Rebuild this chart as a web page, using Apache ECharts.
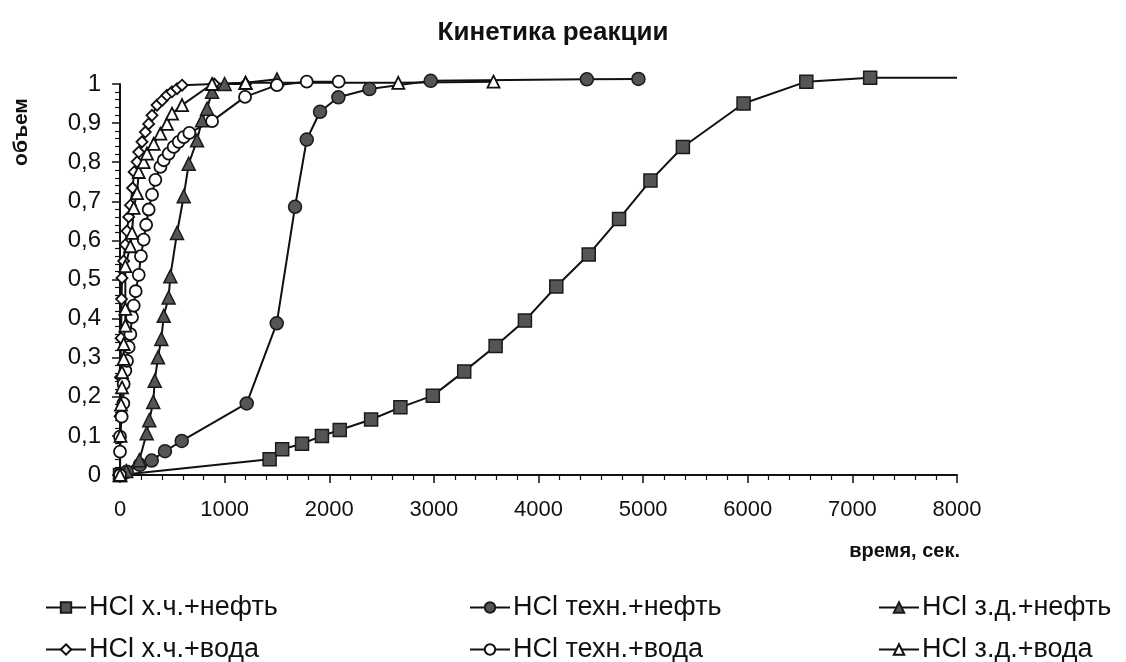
<!DOCTYPE html>
<html>
<head>
<meta charset="utf-8">
<script src="https://cdn.jsdelivr.net/npm/echarts@6/dist/echarts.min.js"></script>
<style>
html,body{margin:0;padding:0;background:#fff;}
#chart{width:1126px;height:662px;}
</style>
</head>
<body>
<div id="chart"></div>
<script>
// ---- data (time, s ; volume, fraction) ----
var titleText = 'Кинетика реакции';
var yAxisName = 'объем';
var xAxisName = 'время, сек.';
var seriesNames = ['HCl х.ч.+нефть', 'HCl техн.+нефть', 'HCl з.д.+нефть',
                   'HCl х.ч.+вода', 'HCl техн.+вода', 'HCl з.д.+вода'];

// HCl х.ч.+нефть (filled squares)
var s1Time = [0, 1430, 1550, 1740, 1930, 2100, 2400, 2680, 2990, 3290, 3590, 3870, 4170, 4480, 4770, 5070, 5380, 5960, 6560, 7170, 8000];
var s1Vol  = [0, 0.04, 0.066, 0.08, 0.10, 0.115, 0.142, 0.173, 0.203, 0.265, 0.33, 0.395, 0.482, 0.564, 0.655, 0.753, 0.839, 0.95, 1.006, 1.016, 1.016];

// HCl техн.+нефть (filled circles)
var s2Time = [0, 64, 190, 303, 430, 590, 1211, 1498, 1673, 1785, 1912, 2087, 2384, 2970, 4462, 4955];
var s2Vol  = [0, 0.008, 0.026, 0.037, 0.061, 0.087, 0.183, 0.388, 0.686, 0.858, 0.929, 0.966, 0.987, 1.008, 1.012, 1.013];

// HCl з.д.+нефть (filled triangles)
var s3Time = [0, 60, 185, 255, 280, 318, 332, 363, 395, 418, 465, 481, 545, 609, 657, 736, 784, 832, 880, 1000, 1200, 1500];
var s3Vol  = [0, 0.01, 0.038, 0.107, 0.14, 0.187, 0.241, 0.301, 0.348, 0.407, 0.454, 0.508, 0.619, 0.713, 0.796, 0.856, 0.907, 0.937, 0.98, 1.0, 1.003, 1.012];

// HCl х.ч.+вода (open diamonds)
var s4Time = [0, 0, 5, 10, 15, 19, 35, 51, 67, 83, 100, 120, 135, 163, 179, 210, 242, 274, 306, 354, 402, 449, 497, 545, 593, 900, 1200];
var s4Vol  = [0, 0.15, 0.25, 0.35, 0.45, 0.504, 0.547, 0.589, 0.624, 0.66, 0.69, 0.734, 0.775, 0.801, 0.826, 0.852, 0.877, 0.898, 0.92, 0.946, 0.958, 0.971, 0.98, 0.988, 0.997, 1.0, 1.0];

// HCl техн.+вода (open circles)
var s5Time = [0, 0, 0, 16, 32, 35, 51, 67, 83, 99, 115, 131, 150, 179, 200, 226, 250, 274, 306, 338, 386, 418, 465, 513, 561, 609, 663, 880, 1195, 1500, 1785, 2090];
var s5Vol  = [0, 0.06, 0.098, 0.149, 0.183, 0.233, 0.267, 0.292, 0.327, 0.36, 0.404, 0.433, 0.47, 0.512, 0.56, 0.602, 0.64, 0.679, 0.717, 0.755, 0.788, 0.805, 0.822, 0.839, 0.852, 0.864, 0.875, 0.905, 0.967, 0.997, 1.006, 1.006];

// HCl з.д.+вода (open triangles)
var s6Time = [0, 5, 10, 19, 19, 35, 35, 51, 51, 51, 99, 115, 131, 163, 179, 226, 258, 322, 386, 449, 497, 593, 880, 1200, 2660, 3570];
var s6Vol  = [0, 0.1, 0.18, 0.224, 0.263, 0.297, 0.335, 0.382, 0.425, 0.534, 0.585, 0.619, 0.683, 0.721, 0.775, 0.80, 0.822, 0.847, 0.873, 0.898, 0.924, 0.946, 1.0, 1.003, 1.003, 1.006];

// x-axis / y-axis ranges
var xMin = 0, xMax = 8000, xStep = 1000;
var yMin = 0, yMax = 1, yStep = 0.1;

// ---- build ----
function pairs(t, v, hideLastMarker) {
  var out = [];
  for (var i = 0; i < t.length; i++) {
    var item = { value: [t[i], v[i]] };
    if (hideLastMarker && i === t.length - 1) item.symbol = 'none';
    out.push(item);
  }
  return out;
}

var FONT = '"Liberation Sans", Arial, sans-serif';
var filledStyle = { color: '#555', borderColor: '#1a1a1a', borderWidth: 1.5 };
var openStyle = { color: '#fff', borderColor: '#111', borderWidth: 1.8 };

function mkSeries(name, data, symbol, size, itemStyle) {
  return {
    name: name, type: 'line', data: data,
    symbol: symbol, symbolSize: size, showAllSymbol: true,
    clip: false, animation: false,
    lineStyle: { color: '#111', width: 2 },
    itemStyle: itemStyle,
    emphasis: { disabled: true }
  };
}

var series = [
  mkSeries(seriesNames[0], pairs(s1Time, s1Vol, true), 'rect', 13, filledStyle),
  mkSeries(seriesNames[1], pairs(s2Time, s2Vol), 'circle', 13, filledStyle),
  mkSeries(seriesNames[2], pairs(s3Time, s3Vol), 'triangle', 13, filledStyle),
  mkSeries(seriesNames[3], pairs(s4Time, s4Vol), 'diamond', 11, openStyle),
  mkSeries(seriesNames[4], pairs(s5Time, s5Vol), 'circle', 12, openStyle),
  mkSeries(seriesNames[5], pairs(s6Time, s6Vol), 'triangle', 12, openStyle)
];

var legendPos = [
  { left: 40, top: 589 }, { left: 464, top: 589 }, { left: 873, top: 589 },
  { left: 40, top: 631 }, { left: 464, top: 631 }, { left: 873, top: 631 }
];
var legends = legendPos.map(function (p, i) {
  return {
    left: p.left, top: p.top, data: [seriesNames[i]],
    itemWidth: 40, itemHeight: 13, itemGap: 0,
    selectedMode: false,
    textStyle: { fontFamily: FONT, fontSize: 27, color: '#111', padding: [0, 0, 0, -2] }
  };
});

var chart = echarts.init(document.getElementById('chart'), null, { renderer: 'canvas' });
chart.setOption({
  backgroundColor: '#fff',
  animation: false,
  title: {
    text: titleText, left: 548, top: 15, textAlign: 'center',
    textStyle: { fontFamily: FONT, fontSize: 26, fontWeight: 'bold', color: '#111' }
  },
  legend: legends,
  grid: { left: 120, right: 169, top: 84, bottom: 187, containLabel: false },
  xAxis: {
    type: 'value', min: xMin, max: xMax, interval: xStep,
    axisLine: { show: true, onZero: false, lineStyle: { color: '#111', width: 2 } },
    axisTick: { show: true, inside: false, length: 8, lineStyle: { color: '#111', width: 1.5 } },
    minorTick: { show: true, splitNumber: 5, length: 5, lineStyle: { color: '#111', width: 1.2 } },
    splitLine: { show: false },
    axisLabel: {
      margin: 24, fontFamily: FONT, fontSize: 22, color: '#111',
      formatter: function (v) { return String(v); }
    }
  },
  yAxis: {
    type: 'value', min: yMin, max: yMax, interval: yStep,
    axisLine: { show: true, lineStyle: { color: '#111', width: 2 } },
    axisTick: { show: true, inside: false, length: 8, lineStyle: { color: '#111', width: 1.5 } },
    minorTick: { show: true, splitNumber: 5, length: 5, lineStyle: { color: '#111', width: 1.2 } },
    splitLine: { show: false },
    axisLabel: {
      margin: 19, fontFamily: FONT, fontSize: 24, color: '#111',
      formatter: function (v) { return String(Math.round(v * 10) / 10).replace('.', ','); }
    }
  },
  graphic: [
    {
      type: 'text', x: 21, y: 132, rotation: Math.PI / 2,
      style: { text: yAxisName, align: 'center', verticalAlign: 'middle',
               font: 'bold 21px ' + FONT, fill: '#111' }
    },
    {
      type: 'text', x: 960, y: 551,
      style: { text: xAxisName, align: 'right', verticalAlign: 'middle',
               font: 'bold 20px ' + FONT, fill: '#111' }
    }
  ],
  series: series
});
</script>
</body>
</html>
